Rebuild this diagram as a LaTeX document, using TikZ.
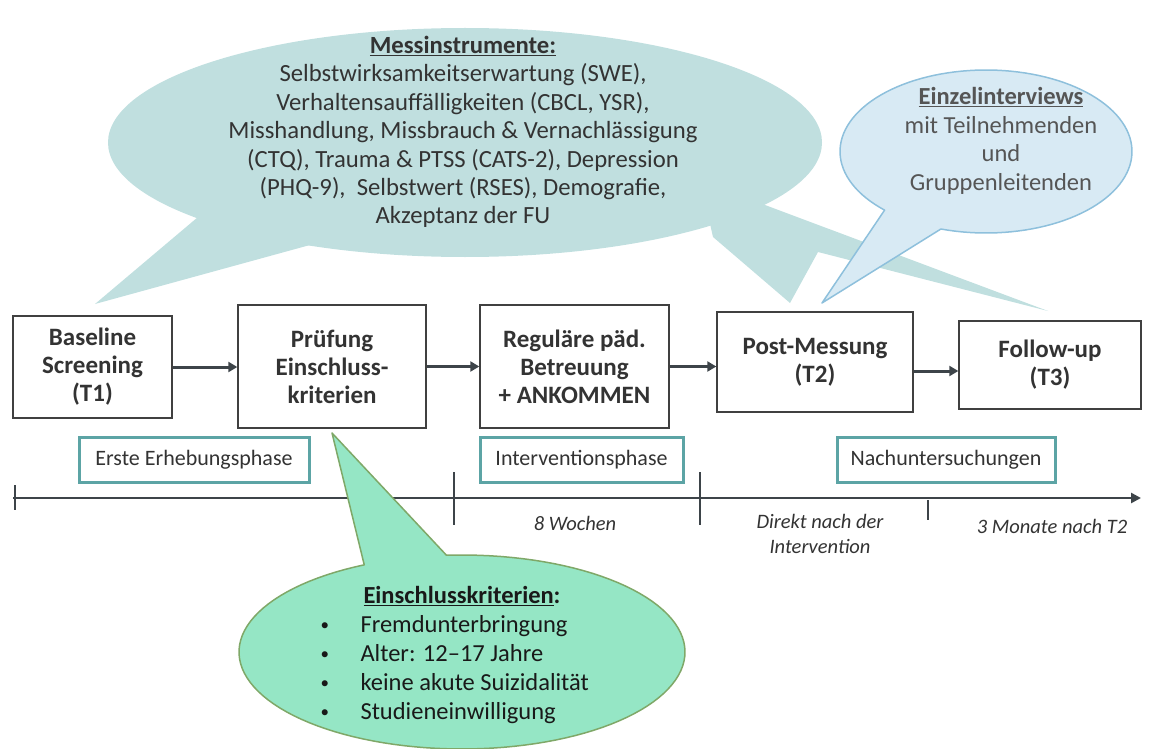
\documentclass[tikz,border=0pt]{standalone}
\usepackage{fontspec}
\setmainfont{Carlito}
\usetikzlibrary{arrows.meta}
\definecolor{bigfill}{HTML}{C0DFDF}
\definecolor{bluefill}{HTML}{D8EAF4}
\definecolor{bluedraw}{HTML}{8EC0DC}
\definecolor{grnfill}{HTML}{95E6C5}
\definecolor{grndraw}{HTML}{7FA868}
\definecolor{phc}{HTML}{5CA4A5}
\definecolor{boxc}{HTML}{404040}
\definecolor{arrc}{HTML}{3D4449}
\definecolor{txt}{HTML}{333333}
\definecolor{greytxt}{HTML}{555555}
\newcommand{\gbul}{\makebox[40pt][l]{\raisebox{2.2pt}{\fontsize{17}{17}\selectfont\textbullet}}}
\begin{document}
\begin{tikzpicture}[x=1pt,y=-1pt,
  stepbox/.style={draw=boxc, line width=1.4pt, fill=white, text=txt, align=center, inner sep=0pt,
    font=\fontsize{25}{28}\selectfont\bfseries},
  phasebox/.style={draw=phc, line width=3pt, fill=white, text=txt, inner sep=0pt,
    minimum height=45pt, font=\fontsize{22}{24}\selectfont},
  flowarr/.style={line width=3pt, draw=arrc, -{Triangle[length=9pt,width=10pt]}},
  tick/.style={line width=1.5pt, draw=arrc},
  lbl/.style={font=\fontsize{20.5}{25}\selectfont\itshape, text=txt, align=center},
  bigtxt/.style={font=\fontsize{24.7}{28.4}\selectfont, text=txt, align=center},
  bluetxt/.style={font=\fontsize{24.5}{28.6}\selectfont, text=greytxt, align=center},
  grntxt/.style={font=\fontsize{24.5}{29}\selectfont, text=black!90}
]
\useasboundingbox (0,0) rectangle (1159,749);

% big teal bubble
\fill[bigfill] (465,142.5) ellipse [x radius=357pt, y radius=114.5pt];
\fill[bigfill] (198,217) -- (95,304) -- (310,245) -- (300,190) -- cycle;
\fill[bigfill] (700,180) -- (713,237) -- (790,303) -- (818,252) -- (1048,311) -- (765,205) -- cycle;
\node[bigtxt] (mtext) at (463,132) {\underline{\textbf{Messinstrumente:}}\\
  Selbstwirksamkeitserwartung (SWE),\\
  Verhaltensauffälligkeiten (CBCL, YSR),\\
  Misshandlung, Missbrauch \& Vernachlässigung\\
  (CTQ), Trauma \& PTSS (CATS-2), Depression\\
  (PHQ-9),\ \ Selbstwert (RSES), Demografie,\\
  Akzeptanz der FU};

% blue bubble
\draw[fill=bluefill, draw=bluedraw, line width=1.5pt, line join=round]
  (822,303) -- plot[domain=134:468, samples=120] ({986+146*cos(\x)},{151.5+81.5*sin(\x)}) -- cycle;
\node[bluetxt] (btext) at (1001,141) {\underline{\textbf{Einzelinterviews}}\\ mit Teilnehmenden\\ und\\ Gruppenleitenden};

% step boxes
\node[stepbox, minimum width=159pt, minimum height=102pt] (b1) at (92.5,367) {Baseline\\ Screening\\ (T1)};
\node[stepbox, minimum width=188pt, minimum height=123pt] (b2) at (332,366.5) {Prüfung\\ Einschluss-\\ kriterien};
\node[stepbox, minimum width=189pt, minimum height=123pt] (b3) at (574.5,366.5) {Reguläre päd.\\ Betreuung\\ + ANKOMMEN};
\node[stepbox, minimum width=196pt, minimum height=100pt] (b4) at (815,362) {Post-Messung\\ (T2)};
\node[stepbox, minimum width=182pt, minimum height=88pt] (b5) at (1050,365) {Follow-up\\ (T3)};

\coordinate (a4) at ([yshift=-9pt]b4.east);
\draw[flowarr] (b1.east) -- (b2.west |- b1.east);
\draw[flowarr] (b2.east) -- (b3.west);
\draw[flowarr] (b3.east) -- (b4.west |- b3.east);
\draw[flowarr] (a4) -- (b5.west |- a4);

% phase boxes
\node[phasebox, minimum width=230pt] (p1) at (194,459.5) {Erste Erhebungsphase};
\node[phasebox, minimum width=203pt] (p2) at (581.5,459.5) {Interventionsphase};
\node[phasebox, minimum width=218pt] (p3) at (946,459.5) {Nachuntersuchungen};

% timeline
\coordinate (tl0) at (13,498);
\coordinate (tl1) at (1141,498);
\draw[line width=2.5pt, draw=arrc, -{Triangle[length=10pt,width=10pt]}] (tl0) -- (tl1);
\coordinate (k0a) at (15,485); \coordinate (k0b) at (15,510);
\coordinate (k1a) at (454,472); \coordinate (k1b) at (454,525);
\coordinate (k2a) at (700,472); \coordinate (k2b) at (700,525);
\coordinate (k3a) at (928,500); \coordinate (k3b) at (928,520);
\draw[tick] (k0a) -- (k0b);
\draw[tick] (k1a) -- (k1b);
\draw[tick] (k2a) -- (k2b);
\draw[tick] (k3a) -- (k3b);

\node[lbl] (l1) at (575,523) {8 Wochen};
\node[lbl] (l2) at (820,534) {Direkt nach der\\ Intervention};
\node[lbl] (l3) at (1052,526) {3 Monate nach T2};

% green bubble
\draw[fill=grnfill, draw=grndraw, line width=1.5pt, line join=round]
  (332,433) -- plot[domain=266:604, samples=120] ({462+223*cos(\x)},{652+97*sin(\x)}) -- cycle;
\node[grntxt] (gtitle) at (462,596) {\underline{\textbf{Einschlusskriterien}}\textbf{:}};
\node[grntxt, anchor=west, align=left] (glist) at (317,670) {%
  \gbul Fremdunterbringung\\
  \gbul Alter: 12–17 Jahre\\
  \gbul keine akute Suizidalität\\
  \gbul Studieneinwilligung};
\end{tikzpicture}
\end{document}
